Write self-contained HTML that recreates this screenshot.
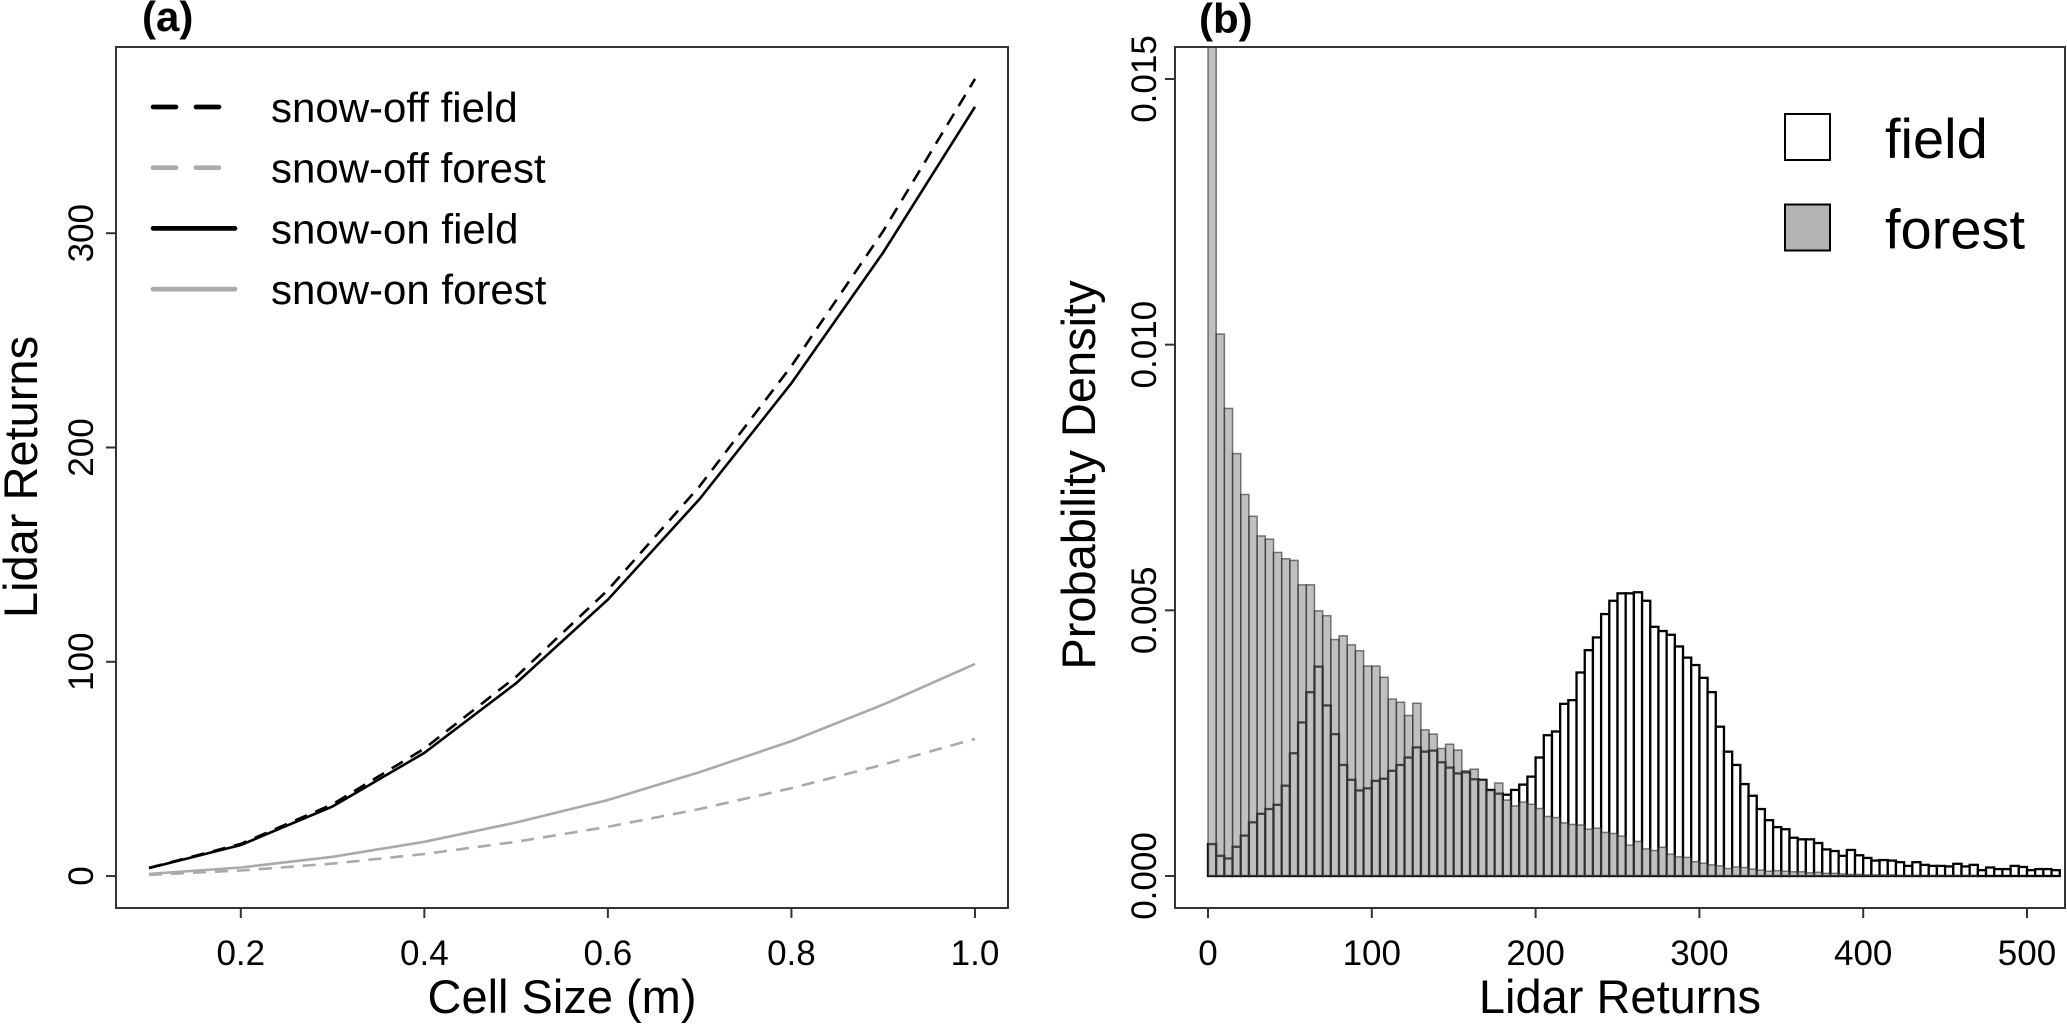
<!DOCTYPE html>
<html><head><meta charset="utf-8">
<style>
html,body{margin:0;padding:0;background:#fff;}
svg{display:block;font-family:"Liberation Sans",Arial,sans-serif;}
</style></head>
<body>
<svg id="fig" width="2067" height="1026" viewBox="0 0 2067 1026" xmlns="http://www.w3.org/2000/svg">
<defs>
<clipPath id="clipB"><rect x="1175" y="47" width="890" height="861"/></clipPath>
<clipPath id="clipA"><rect x="116" y="47" width="892" height="861"/></clipPath>
</defs>
<g id="panelA"></g>
<g id="panelB"></g>
</svg>
<script>
// ---- Panel (a) data ----
const cellSizes = [0.1,0.2,0.3,0.4,0.5,0.6,0.7,0.8,0.9,1.0];
const snowOffField = [3.8,15,33.5,59.5,93,133.5,182,238,301,372];
const snowOffForest = [0.6,2.6,5.8,10.3,16,23,31.3,41,52,64];
const snowOnField = [3.7,14.5,32.5,57.5,90,129,176,230,291,359];
const snowOnForest = [1,4,9,16,25,35.5,48.5,63,80,99];
const aXTicks = [0.2,0.4,0.6,0.8,1.0];
const aXTickLabels = ["0.2","0.4","0.6","0.8","1.0"];
const aYTicks = [0,100,200,300];
const aYTickLabels = ["0","100","200","300"];

// ---- Panel (b) data (density x 0.001, bin width 5) ----
const binWidth = 5;
const fieldDensity = [0.60,0.38,0.33,0.55,0.76,1.01,1.17,1.26,1.34,1.70,2.31,2.89,3.46,3.94,3.21,2.67,2.09,1.81,1.61,1.65,1.79,1.83,1.98,2.09,2.23,2.42,2.34,2.36,2.14,2.04,1.93,1.95,1.82,1.81,1.62,1.55,1.53,1.62,1.72,1.87,2.23,2.65,2.72,3.24,3.31,3.83,4.25,4.49,4.93,5.18,5.32,5.32,5.34,5.18,4.69,4.61,4.54,4.32,4.11,3.97,3.73,3.46,2.81,2.34,2.09,1.73,1.51,1.26,1.05,0.92,0.88,0.72,0.69,0.69,0.62,0.50,0.47,0.38,0.49,0.39,0.34,0.29,0.30,0.29,0.26,0.19,0.26,0.21,0.19,0.19,0.18,0.23,0.18,0.21,0.11,0.16,0.13,0.13,0.19,0.17,0.11,0.13,0.13,0.11];
const forestDensity = [17.5,10.2,8.8,7.95,7.18,6.77,6.40,6.34,6.09,5.97,5.94,5.48,5.48,4.99,4.90,4.45,4.52,4.35,4.24,3.95,3.95,3.74,3.33,3.27,3.02,3.25,2.75,2.67,2.40,2.48,2.37,1.98,2.01,1.81,1.61,1.75,1.43,1.32,1.39,1.35,1.27,1.12,1.10,1.00,0.97,0.96,0.88,0.90,0.82,0.80,0.75,0.58,0.65,0.51,0.48,0.54,0.41,0.36,0.35,0.27,0.24,0.21,0.19,0.14,0.17,0.16,0.13,0.11,0.09,0.10,0.09,0.08,0.08,0.06,0.07,0.05,0.05,0.04,0.03,0.03,0.02,0.02,0.02,0.02,0.01,0.01,0.01,0.01,0.01,0.01,0.01,0.01,0.01,0.01,0,0,0,0,0,0,0,0,0,0];
const bXTicks = [0,100,200,300,400,500];
const bXTickLabels = ["0","100","200","300","400","500"];
const bYTicks = [0,0.005,0.010,0.015];
const bYTickLabels = ["0.000","0.005","0.010","0.015"];

const NS = "http://www.w3.org/2000/svg";
function mk(tag, attrs, parent){
  const e = document.createElementNS(NS, tag);
  for (const k in attrs) e.setAttribute(k, attrs[k]);
  parent.appendChild(e);
  return e;
}
function linScale(d0,d1,r0,r1){ return v => r0 + (v-d0)/(d1-d0)*(r1-r0); }

// ---------- Panel A ----------
const gA = document.getElementById('panelA');
const xA = linScale(0.064, 1.036, 116, 1008);
const yA = linScale(-14.9, 386.9, 908, 47);

let t = mk('text',{x:142,y:31,'font-size':42,'font-weight':'bold'},gA);
t.textContent='(a)';



const seriesA = [
  {name:'snow-off-field-line', vals:snowOffField, color:'#000', dash:'13,9'},
  {name:'snow-off-forest-line', vals:snowOffForest, color:'#aaa', dash:'13,9'},
  {name:'snow-on-field-line', vals:snowOnField, color:'#000', dash:''},
  {name:'snow-on-forest-line', vals:snowOnForest, color:'#aaa', dash:''}
];
const gLines = mk('g',{'clip-path':'url(#clipA)'},gA);
seriesA.forEach(s=>{
  const d = s.vals.map((v,i)=>(i?'L':'M')+xA(cellSizes[i]).toFixed(1)+','+yA(v).toFixed(1)).join(' ');
  const p = mk('path',{d:d,fill:'none',stroke:s.color,'stroke-width':2.6,'stroke-dasharray':s.dash},gLines);
  
  
});

let box = mk('rect',{x:116,y:47,width:892,height:861,fill:'none',stroke:'#333','stroke-width':2},gA);



aXTicks.forEach((v,i)=>{
  const x = xA(v);
  const tk = mk('line',{x1:x,y1:908,x2:x,y2:918,stroke:'#333','stroke-width':2},gA);
  
  
  const lb = mk('text',{x:x,y:965,'font-size':35,'text-anchor':'middle'},gA);
  lb.textContent = aXTickLabels[i];
  
  
});
aYTicks.forEach((v,i)=>{
  const y = yA(v);
  const tk = mk('line',{x1:106,y1:y,x2:116,y2:y,stroke:'#333','stroke-width':2},gA);
  
  
  const lb = mk('text',{x:0,y:0,'font-size':35,'text-anchor':'middle',transform:`translate(93,${y}) rotate(-90)`},gA);
  lb.textContent = aYTickLabels[i];
  
  
});
t = mk('text',{x:562,y:1013,'font-size':47,'text-anchor':'middle'},gA);
t.textContent='Cell Size (m)';


t = mk('text',{x:0,y:0,'font-size':47,'text-anchor':'middle',transform:'translate(37,477) rotate(-90)'},gA);
t.textContent='Lidar Returns';



// legend a
const legA = mk('g',{},gA);


const legItems = [
  {label:'snow-off field', color:'#000', dash:true},
  {label:'snow-off forest', color:'#aaa', dash:true},
  {label:'snow-on field', color:'#000', dash:false},
  {label:'snow-on forest', color:'#aaa', dash:false}
];
legItems.forEach((it,i)=>{
  const y = 107 + i*60.7;
  const g = mk('g',{},legA);
  
  
  if (it.dash){
    mk('line',{x1:153,y1:y,x2:220,y2:y,stroke:it.color,'stroke-width':4.7,'stroke-dasharray':'23,20','stroke-linecap':'round'},g);
  } else {
    mk('line',{x1:153,y1:y,x2:235,y2:y,stroke:it.color,'stroke-width':4.7,'stroke-linecap':'round'},g);
  }
  const tx = mk('text',{x:271,y:y+15,'font-size':42},g);
  tx.textContent = it.label;
});

// ---------- Panel B ----------
const gB = document.getElementById('panelB');
const xB = linScale(0, 500, 1208, 2027);
const yB = linScale(0, 0.015, 876, 79);

t = mk('text',{x:1199,y:33,'font-size':42,'font-weight':'bold'},gB);
t.textContent='(b)';



const gBars = mk('g',{'clip-path':'url(#clipB)'},gB);
fieldDensity.forEach((d,i)=>{
  const x0 = xB(i*binWidth), x1 = xB((i+1)*binWidth);
  const y = yB(d/1000);
  const r = mk('rect',{x:x0,y:y,width:x1-x0,height:yB(0)-y,fill:'#fff',stroke:'#000','stroke-width':2.3},gBars);
  
  
});
forestDensity.forEach((d,i)=>{
  const x0 = xB(i*binWidth), x1 = xB((i+1)*binWidth);
  const y = yB(d/1000);
  const r = mk('rect',{x:x0,y:y,width:x1-x0,height:yB(0)-y,fill:'rgba(130,130,130,0.5)',stroke:'rgba(40,40,40,0.6)','stroke-width':1.5},gBars);
  
  
});

box = mk('rect',{x:1175,y:47,width:890,height:861,fill:'none',stroke:'#333','stroke-width':2},gB);



bXTicks.forEach((v,i)=>{
  const x = xB(v);
  const tk = mk('line',{x1:x,y1:908,x2:x,y2:918,stroke:'#333','stroke-width':2},gB);
  
  
  const lb = mk('text',{x:x,y:965,'font-size':35,'text-anchor':'middle'},gB);
  lb.textContent = bXTickLabels[i];
  
  
});
bYTicks.forEach((v,i)=>{
  const y = yB(v);
  const tk = mk('line',{x1:1165,y1:y,x2:1175,y2:y,stroke:'#333','stroke-width':2},gB);
  
  
  const lb = mk('text',{x:0,y:0,'font-size':35,'text-anchor':'middle',transform:`translate(1156,${y}) rotate(-90)`},gB);
  lb.textContent = bYTickLabels[i];
  
  
});
t = mk('text',{x:1620,y:1013,'font-size':47,'text-anchor':'middle'},gB);
t.textContent='Lidar Returns';


t = mk('text',{x:0,y:0,'font-size':47,'text-anchor':'middle',transform:'translate(1095,475) rotate(-90)'},gB);
t.textContent='Probability Density';



const legB = mk('g',{},gB);


[{label:'field',fill:'#fff'},{label:'forest',fill:'#b3b3b3'}].forEach((it,i)=>{
  const g = mk('g',{},legB);
  
  
  const y = 114 + i*90.5;
  mk('rect',{x:1785,y:y,width:45,height:46,fill:it.fill,stroke:'#000','stroke-width':2},g);
  const tx = mk('text',{x:1885,y:y+44,'font-size':56},g);
  tx.textContent = it.label;
});
</script>
</body></html>
